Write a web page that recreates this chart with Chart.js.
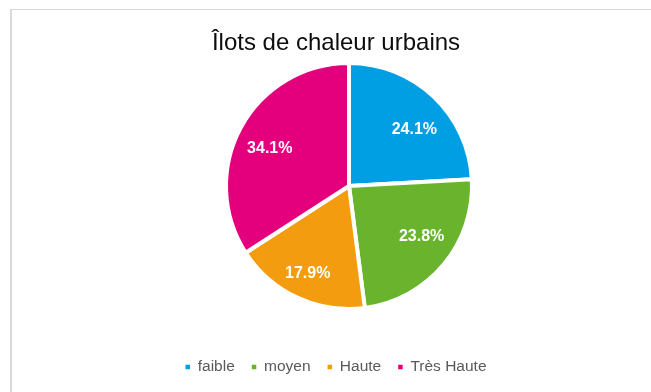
<!DOCTYPE html>
<html>
<head>
<meta charset="utf-8">
<script src="https://cdn.jsdelivr.net/npm/chart.js@4"></script>
<style>
  html, body { margin: 0; padding: 0; background: #fff; overflow: hidden; }
  #frame {
    position: absolute; left: 10px; top: 9px; width: 700px; height: 420px;
    border-left: 2px solid #D9D9D9; border-top: 1px solid #D9D9D9;
  }
  #c { position: absolute; left: 0; top: 0; }
</style>
</head>
<body>
<div id="frame"><canvas id="c" width="648" height="382"></canvas></div>
<script>
// Heat-island share per intensity class (percent)
const chartTitle = 'Îlots de chaleur urbains';
const categories = ['faible', 'moyen', 'Haute', 'Très Haute'];
const shares = [24.1, 23.8, 17.9, 34.1];
const sliceColors = ['#009FE3', '#6AB42D', '#F39C0F', '#E4007D'];

const FONT = '"Liberation Sans", Arial, Helvetica, sans-serif';
Chart.defaults.font.family = FONT;

// Where each percentage sits inside its slice: fraction of the radius and a small turn (degrees)
const labelPlacement = [
  { radius: 0.71, turn: 5 },
  { radius: 0.71, turn: -6 },
  { radius: 0.77, turn: 1 },
  { radius: 0.72, turn: -2 }
];

// Empty layout box on the left so the pie sits right of the centred title/legend
const GUTTER = 26;
const leftGutter = {
  id: 'leftGutter',
  beforeInit(chart) {
    Chart.layouts.addBox(chart, {
      position: 'left', weight: 100, fullSize: false, options: {},
      left: 0, top: 0, right: 0, bottom: 0, width: 0, height: 0,
      isHorizontal() { return false; },
      update(maxWidth, maxHeight) { this.width = GUTTER; this.height = maxHeight; },
      draw() {}
    });
  }
};

// White percentage labels inside the slices
const sliceLabels = {
  id: 'sliceLabels',
  afterDatasetsDraw(chart) {
    const ctx = chart.ctx;
    const meta = chart.getDatasetMeta(0);
    ctx.save();
    ctx.font = 'bold 16px ' + FONT;
    ctx.fillStyle = '#FFFFFF';
    ctx.textAlign = 'center';
    ctx.textBaseline = 'middle';
    meta.data.forEach((arc, i) => {
      const { x, y, startAngle, endAngle, outerRadius } =
        arc.getProps(['x', 'y', 'startAngle', 'endAngle', 'outerRadius'], true);
      const p = labelPlacement[i];
      const a = (startAngle + endAngle) / 2 + p.turn * Math.PI / 180;
      const r = outerRadius * p.radius;
      ctx.fillText(shares[i].toFixed(1) + '%', x + Math.cos(a) * r, y + Math.sin(a) * r + 2);
    });
    ctx.restore();
  }
};

new Chart(document.getElementById('c'), {
  type: 'pie',
  data: {
    labels: categories,
    datasets: [{
      data: shares,
      backgroundColor: sliceColors,
      borderColor: '#FFFFFF',
      borderWidth: 4
    }]
  },
  options: {
    responsive: false,
    animation: false,
    layout: { padding: { top: 0, left: 0, right: 0, bottom: 7.25 } },
    plugins: {
      tooltip: { enabled: false },
      title: {
        display: true,
        text: chartTitle,
        color: '#0D0D0D',
        font: { size: 24, weight: 'normal' },
        padding: { top: 19, bottom: 3.2 }
      },
      legend: {
        position: 'bottom',
        title: { display: true, text: '', font: { size: 12 }, padding: { top: 16.85, bottom: 0 } },
        labels: {
          boxWidth: 4.5,
          boxHeight: 4.5,
          padding: 17,
          color: '#595959',
          font: { size: 15.5 },
          generateLabels(chart) {
            const base = Chart.overrides.pie.plugins.legend.labels.generateLabels(chart);
            return base.map(item => Object.assign(item, { lineWidth: 0, strokeStyle: item.fillStyle }));
          }
        }
      }
    }
  },
  plugins: [leftGutter, sliceLabels]
});
</script>
</body>
</html>
